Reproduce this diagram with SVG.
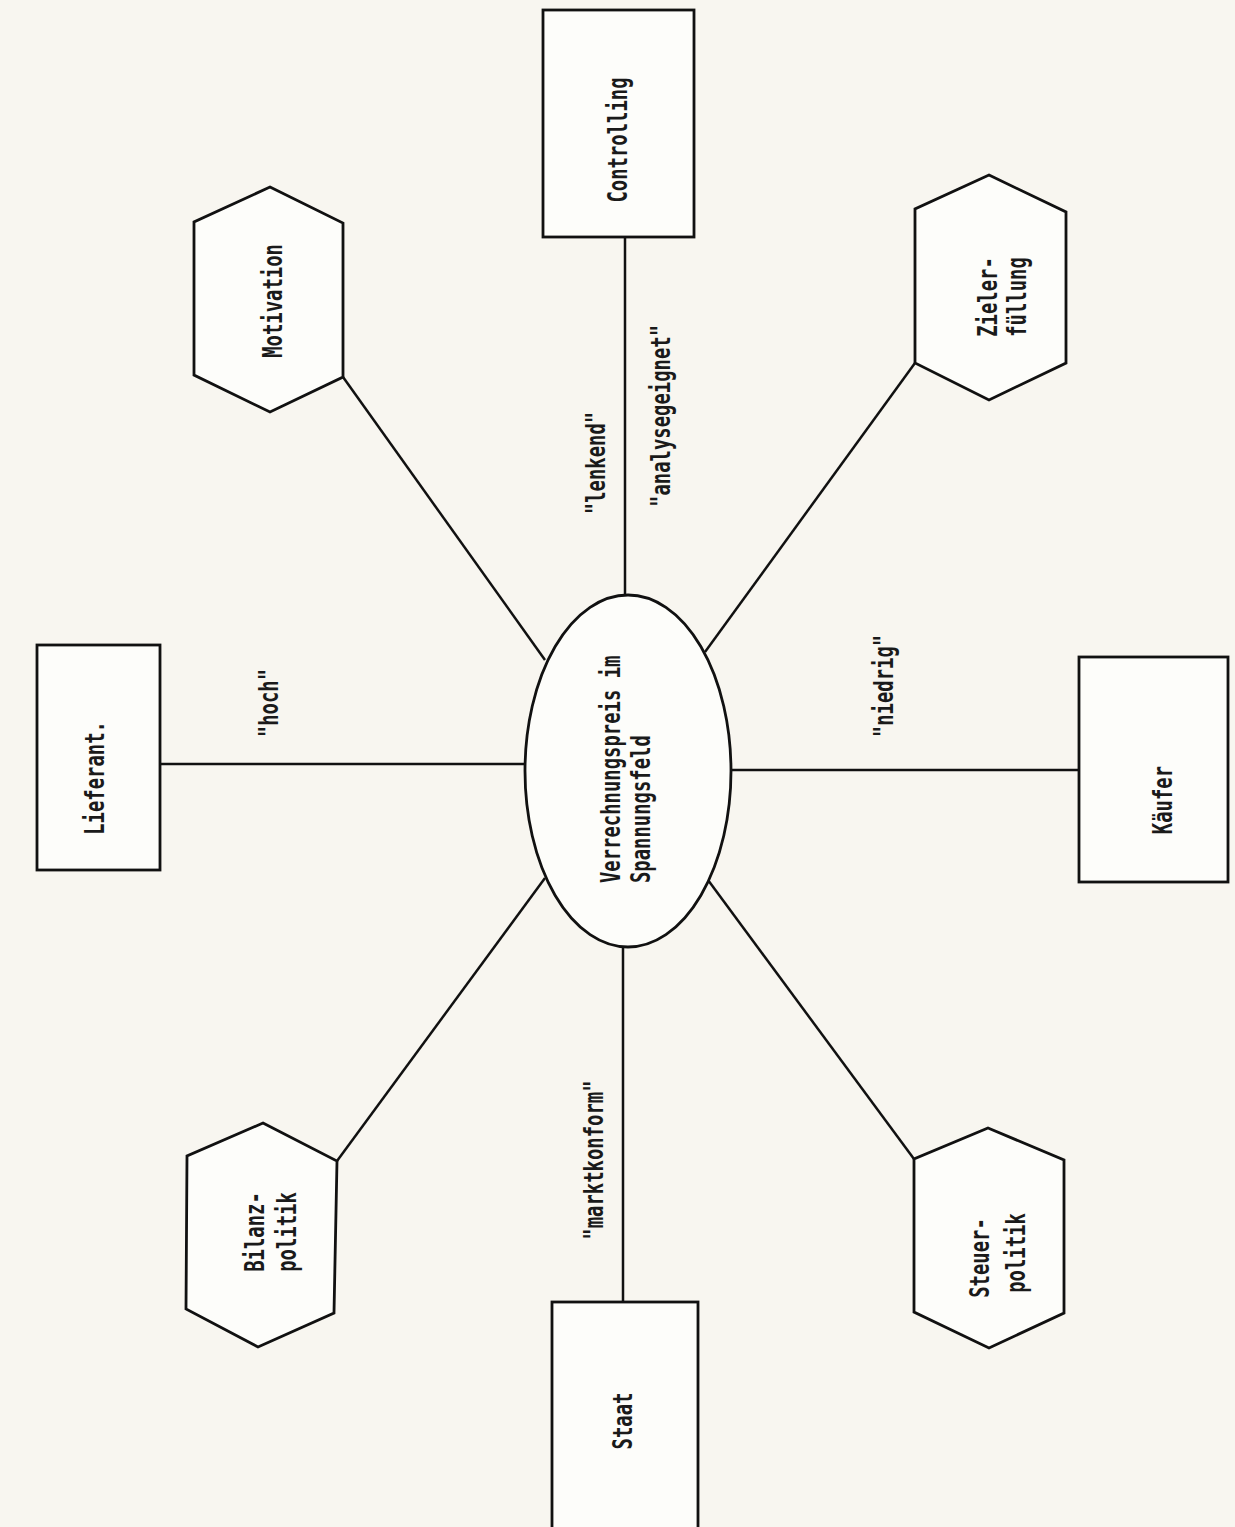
<svg xmlns="http://www.w3.org/2000/svg" width="1235" height="1527" viewBox="0 0 1235 1527">
<style>
.shape{fill:#fdfdfa;stroke:#111;stroke-width:2.8;stroke-linejoin:miter}
.conn line{stroke:#111;stroke-width:2.5}
.t{font-family:"DejaVu Sans Mono","Liberation Mono",monospace;font-size:27px;font-weight:bold;fill:#1a1a1a;text-anchor:middle}
.s{text-anchor:start}
</style>
<rect width="1235" height="1527" fill="#f8f6f0"/>
<g class="conn" id="connectors">
<line x1="625" y1="237" x2="625" y2="595"/>
<line x1="623" y1="947" x2="623" y2="1302"/>
<line x1="160" y1="764" x2="525" y2="764"/>
<line x1="731" y1="770" x2="1079" y2="770"/>
<line x1="343" y1="377" x2="545" y2="660"/>
<line x1="915" y1="363" x2="705" y2="652"/>
<line x1="337" y1="1161" x2="545" y2="878"/>
<line x1="914" y1="1159" x2="708" y2="880"/>
</g>
<g id="labels">
<text class="t" transform="translate(605,463) rotate(-90) scale(0.7,1)">"lenkend"</text>
<text class="t" transform="translate(670,416) rotate(-90) scale(0.7,1)">"analysegeignet"</text>
<text class="t" transform="translate(278,703) rotate(-90) scale(0.7,1)">"hoch"</text>
<text class="t" transform="translate(893,686) rotate(-90) scale(0.7,1)">"niedrig"</text>
<text class="t" transform="translate(603,1160) rotate(-90) scale(0.7,1)">"marktkonform"</text>
</g>
<g id="center">
<ellipse class="shape" cx="628" cy="771" rx="103" ry="176"/>
<text class="t s" transform="translate(620,883) rotate(-90) scale(0.7,1)">Verrechnungspreis im</text>
<text class="t s" transform="translate(650,883) rotate(-90) scale(0.7,1)">Spannungsfeld</text>
</g>
<g id="controlling">
<rect class="shape" x="543" y="10" width="151" height="227"/>
<text class="t" transform="translate(627,140) rotate(-90) scale(0.7,1)">Controlling</text>
</g>
<g id="staat">
<rect class="shape" x="552" y="1302" width="146" height="240"/>
<text class="t" transform="translate(632,1421) rotate(-90) scale(0.7,1)">Staat</text>
</g>
<g id="lieferant">
<rect class="shape" x="37" y="645" width="123" height="225"/>
<text class="t" transform="translate(104,778) rotate(-90) scale(0.7,1)">Lieferant.</text>
</g>
<g id="kaeufer">
<rect class="shape" x="1079" y="657" width="149" height="225"/>
<text class="t" transform="translate(1172,800) rotate(-90) scale(0.7,1)">Käufer</text>
</g>
<g id="motivation">
<polygon class="shape" points="270,187 343,223 343,377 270,412 194,375 194,222"/>
<text class="t" transform="translate(282,301) rotate(-90) scale(0.7,1)">Motivation</text>
</g>
<g id="zielerfuellung">
<polygon class="shape" points="989,175 1066,212 1066,363 989,400 915,363 915,209"/>
<text class="t" transform="translate(997,297) rotate(-90) scale(0.7,1)">Zieler-</text>
<text class="t" transform="translate(1026,297) rotate(-90) scale(0.7,1)">füllung</text>
</g>
<g id="bilanzpolitik">
<polygon class="shape" points="263,1123 337,1161 334,1313 258,1347 186,1309 187,1156"/>
<text class="t" transform="translate(264,1232) rotate(-90) scale(0.7,1)">Bilanz-</text>
<text class="t" transform="translate(296,1232) rotate(-90) scale(0.7,1)">politik</text>
</g>
<g id="steuerpolitik">
<polygon class="shape" points="988,1128 1064,1160 1064,1313 989,1348 914,1312 914,1159"/>
<text class="t" transform="translate(989,1258) rotate(-90) scale(0.7,1)">Steuer-</text>
<text class="t" transform="translate(1025,1253) rotate(-90) scale(0.7,1)">politik</text>
</g>
</svg>
